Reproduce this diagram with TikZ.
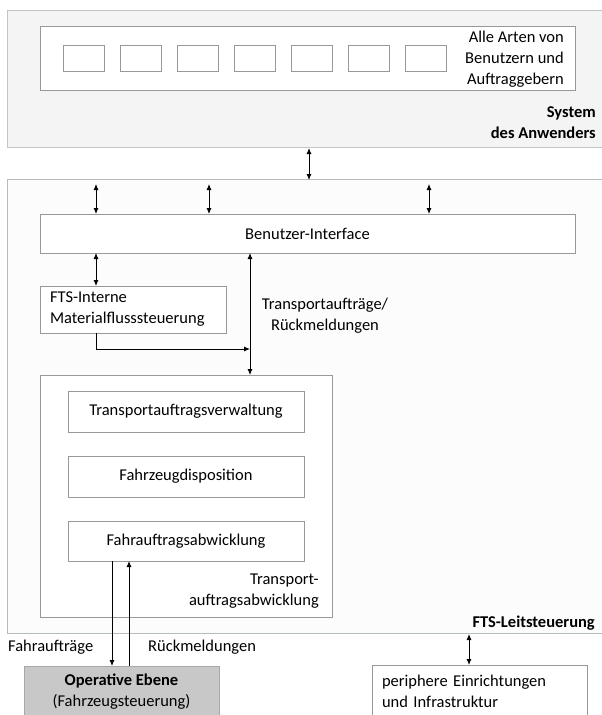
\documentclass[tikz,border=0pt]{standalone}
\usepackage{fontspec}
\setmainfont{Carlito}
\usetikzlibrary{arrows.meta,calc}
\definecolor{sysfill}{HTML}{F4F4F4}
\definecolor{sysdraw}{HTML}{C4C4C4}
\definecolor{ftsfill}{HTML}{FCFCFC}
\definecolor{ftsdraw}{HTML}{B4BCBC}
\definecolor{boxdraw}{HTML}{999999}
\definecolor{opfill}{HTML}{C8C8C8}
\definecolor{opdraw}{HTML}{A8A8A8}
\tikzset{
  txt/.style={font=\fontsize{16.5}{21}\selectfont, inner sep=0pt},
  area/.style={draw=sysdraw, line width=1pt, inner sep=0pt, outer sep=0pt, anchor=north west},
  wbox/.style={draw=boxdraw, fill=white, line width=0.9pt, inner sep=0pt, outer sep=0pt, anchor=north west, font=\fontsize{16.5}{21}\selectfont},
  ubox/.style={draw=boxdraw, fill=white, line width=0.9pt, inner sep=0pt, outer sep=0pt, anchor=north west, minimum width=41pt, minimum height=26pt},
  dbl/.style={{Latex[length=6pt,width=5pt]}-{Latex[length=6pt,width=5pt]}, line width=0.9pt, black},
  sgl/.style={-{Latex[length=6pt,width=5pt]}, line width=0.9pt, black},
}
\begin{document}
\begin{tikzpicture}[x=1pt,y=-1pt]
\clip (0,0) rectangle (602,715);
\fill[white] (0,0) rectangle (602,715);
% System des Anwenders
\node[area, fill=sysfill, minimum width=620pt, minimum height=137pt] (sys) at (7,10) {};
\node[wbox, minimum width=535pt, minimum height=64pt] (users) at (40,26) {};
\foreach \i in {0,...,6} {
  \node[ubox] (u\i) at ({63+57*\i},45) {};
}
\node[txt, align=right, anchor=east] (userslabel) at (564,59) {Alle Arten von\\Benutzern und\\Auftraggebern};
\node[txt, align=right, anchor=east, font=\fontsize{16.5}{21}\selectfont\bfseries] (syslabel) at (596,122.5) {System\\des Anwenders};
% FTS-Leitsteuerung
\node[area, draw=ftsdraw, fill=ftsfill, minimum width=620pt, minimum height=454pt] (fts) at (7,179) {};
\node[wbox, minimum width=535pt, minimum height=39pt] (ui) at (40,214) {Benutzer-Interface};
\node[wbox, minimum width=186pt, minimum height=47pt, text width=166pt, align=left] (fti) at (40,286) {FTS-Interne\\Materialflusssteuerung};
\node[wbox, minimum width=292pt, minimum height=242pt] (tab) at (40,375) {};
\node[wbox, minimum width=236pt, minimum height=41pt] (tv) at (68,391) {Transportauftragsverwaltung};
\node[wbox, minimum width=236pt, minimum height=41pt] (fd) at (68,456) {Fahrzeugdisposition};
\node[wbox, minimum width=236pt, minimum height=40pt] (fa) at (68,521) {Fahrauftragsabwicklung};
\node[txt, align=right, anchor=east] (tablabel) at (319,591.5) {Transport-\\auftragsabwicklung};
\node[txt, align=center] (trlabel) at (325,315.5) {Transportaufträge/\\Rückmeldungen};
\node[txt, anchor=east, font=\fontsize{16.5}{21}\selectfont\bfseries] (ftslabel) at (595,623) {FTS-Leitsteuerung};
% lower boxes
\node[wbox, draw=opdraw, fill=opfill, minimum width=195pt, minimum height=52pt, align=center] (op) at (24,666) {\textbf{Operative Ebene}\\(Fahrzeugsteuerung)};
\node[wbox, minimum width=215pt, minimum height=53pt, text width=195pt, align=left] (per) at (372,665) {periphere Einrichtungen\\und Infrastruktur};
\node[txt, anchor=west] (fahrlabel) at (8,647) {Fahraufträge};
\node[txt, anchor=west] (rueclabel) at (148,647) {Rückmeldungen};
% coordinates
\coordinate (c0) at (309,0);
\coordinate (t1) at (96,184);
\coordinate (t2) at (209,184);
\coordinate (t3) at (429,184);
\coordinate (c2) at (250,0);
\coordinate (c3) at (250,349);
\coordinate (c4) at (112,0);
\coordinate (c5) at (129,0);
\coordinate (c6) at (469,0);
% connectors
\draw[dbl] ($(sys.south -| c0)+(0,1)$) -- ($(fts.north -| c0)+(0,1)$);
\draw[dbl] (t1) -- (t1 |- ui.north);
\draw[dbl] (t2) -- (t2 |- ui.north);
\draw[dbl] (t3) -- (t3 |- ui.north);
\draw[dbl] (ui.south -| t1) -- (fti.north -| t1);
\draw[dbl] (ui.south -| c2) -- (tab.north -| c2);
\draw[sgl] (fti.south -| t1) |- (c3);
\draw[sgl] (fa.south -| c4) -- (op.north -| c4);
\draw[sgl] (op.north -| c5) -- (fa.south -| c5);
\draw[dbl] ($(fts.south -| c6)+(0,1)$) -- (per.north -| c6);
\end{tikzpicture}
\end{document}
